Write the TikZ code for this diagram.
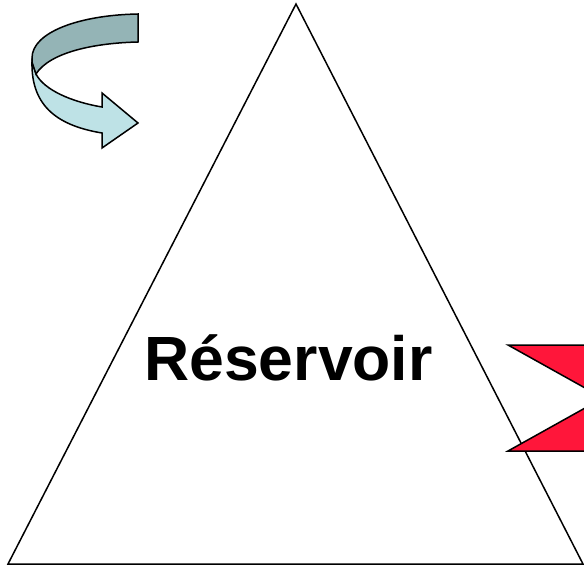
\documentclass[tikz,border=0pt]{standalone}
\usepackage{fontspec}
\setmainfont{Liberation Sans}
\definecolor{arrowred}{RGB}{255,22,58}
\definecolor{darkteal}{RGB}{148,180,182}
\definecolor{lightteal}{RGB}{190,226,230}
\tikzset{
  outline/.style={draw=black, line width=1.5pt, line join=miter},
  label/.style={font=\bfseries\fontsize{62.5}{62.5}\selectfont, inner sep=0pt}
}
\begin{document}
\begin{tikzpicture}[x=1pt,y=-1pt]
\useasboundingbox (0,0) rectangle (584,567);
\fill[white] (0,0) rectangle (584,567);
% triangle
\coordinate (apex) at (296,4);
\coordinate (bl) at (8,564);
\coordinate (br) at (583,564);
\draw[outline] (apex) -- (bl) -- (br) -- cycle;
% red notched arrow, clipped at right edge
\begin{scope}
\clip (0,0) rectangle (584,567);
\draw[outline, fill=arrowred] (508,345) -- (640,345) -- (640,451) -- (508,451) -- (603,398) -- cycle;
\end{scope}
% curved arrow (light lower band)
\draw[outline, fill=lightteal]
  (32,62) .. controls (31,108) and (60,126) .. (102,133)
  -- (102,148) -- (138,123) -- (102,93) -- (102,107)
  .. controls (72,102) and (44,90) .. (36,74) -- cycle;
% dark upper band
\draw[outline, fill=darkteal]
  (138,14) .. controls (80,15) and (32,32) .. (32,58)
  -- (32,62) -- (36,74)
  .. controls (50,52) and (95,43) .. (138,42) -- cycle;
\node[label, anchor=base] (res) at (288.5,380) {Réservoir};
\end{tikzpicture}
\end{document}
